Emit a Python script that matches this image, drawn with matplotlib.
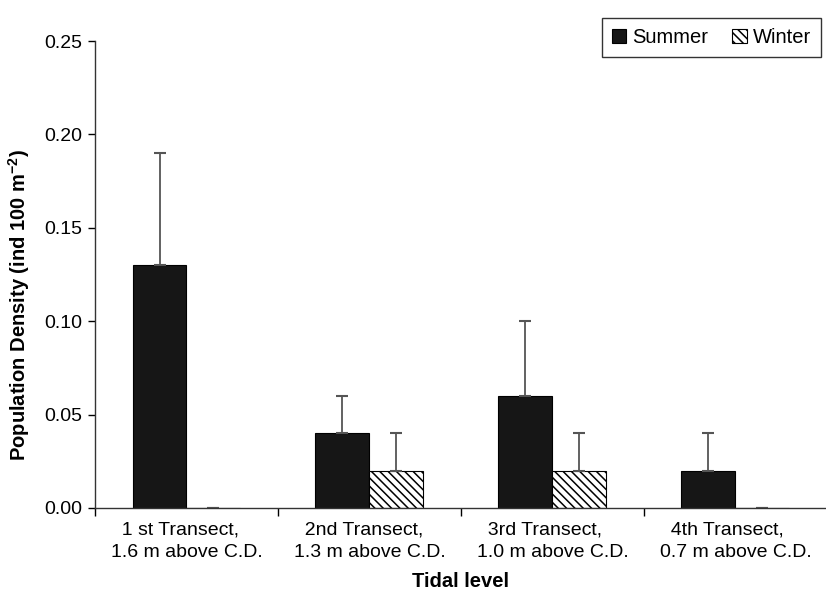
import numpy as np
import matplotlib.pyplot as plt
from matplotlib.ticker import FixedLocator

plt.rcParams['font.family'] = ['Liberation Sans', 'DejaVu Sans']
plt.rcParams['hatch.linewidth'] = 1.1

transects = ['  1 st Transect,\n1.6 m above C.D.',
             '  2nd Transect,\n1.3 m above C.D.',
             '  3rd Transect,\n1.0 m above C.D.',
             '  4th Transect,\n0.7 m above C.D.']
summer = [0.13, 0.04, 0.06, 0.02]
summer_err = [0.06, 0.02, 0.04, 0.02]
winter = [0.0, 0.02, 0.02, 0.0]
winter_err = [0.0, 0.02, 0.02, 0.0]

fig = plt.figure(figsize=(8.26, 5.97), dpi=100)
ax = fig.add_axes([95 / 826, 1 - 508 / 597, 731 / 826, (508 - 41) / 597])

x = np.arange(len(transects)) + 0.5
w = 0.295
errkw = dict(ecolor='#555555', elinewidth=1.3, capsize=4, capthick=1.5)

ax.bar(x - w / 2, summer, w, color='#161616', edgecolor='black', linewidth=0.8,
       yerr=[np.zeros(4), summer_err], error_kw=errkw, label='Summer')
ax.bar(x + w / 2, winter, w, color='white', edgecolor='black', linewidth=0.8,
       hatch='\\\\\\\\', yerr=[np.zeros(4), winter_err], error_kw=errkw,
       label='Winter')

ax.set_xlim(0, 3.995)
ax.set_ylim(0, 0.25)
ax.set_yticks([0, 0.05, 0.10, 0.15, 0.20, 0.25])
ax.set_yticklabels(['0.00', '0.05', '0.10', '0.15', '0.20', '0.25'])

ax.xaxis.set_major_locator(FixedLocator([0, 1, 2, 3]))
ax.set_xticklabels([])
ax.set_xticks(x, minor=True)
ax.set_xticklabels(transects, minor=True, ha='center', multialignment='left',
                   linespacing=1.4)
ax.tick_params(axis='x', which='minor', length=0, pad=10, labelsize=14)
ax.tick_params(axis='x', which='major', length=6, width=1, direction='out')
ax.tick_params(axis='y', length=5, width=1, direction='out', labelsize=14, pad=4)

for s in ['top', 'right']:
    ax.spines[s].set_visible(False)
for s in ['left', 'bottom']:
    ax.spines[s].set_linewidth(1.0)
    ax.spines[s].set_color('#333333')

ax.set_ylabel('Population Density (ind 100 m$^{\\mathregular{-2}}$)',
              fontsize=14.5, fontweight='bold')
ax.yaxis.set_label_coords(-0.086, 0.435)
ax.set_xlabel('Tidal level', fontsize=14.5, fontweight='bold', labelpad=8)

leg = fig.legend(loc='upper right', bbox_to_anchor=(1.006, 0.987), ncol=2,
                 fontsize=14.5, frameon=True, fancybox=False, handlelength=0.7,
                 handleheight=0.7, handletextpad=0.3, columnspacing=1.2,
                 borderpad=0.5)
leg.get_frame().set_edgecolor('black')
leg.get_frame().set_linewidth(1.0)

fig.savefig('out.png', dpi=100)
